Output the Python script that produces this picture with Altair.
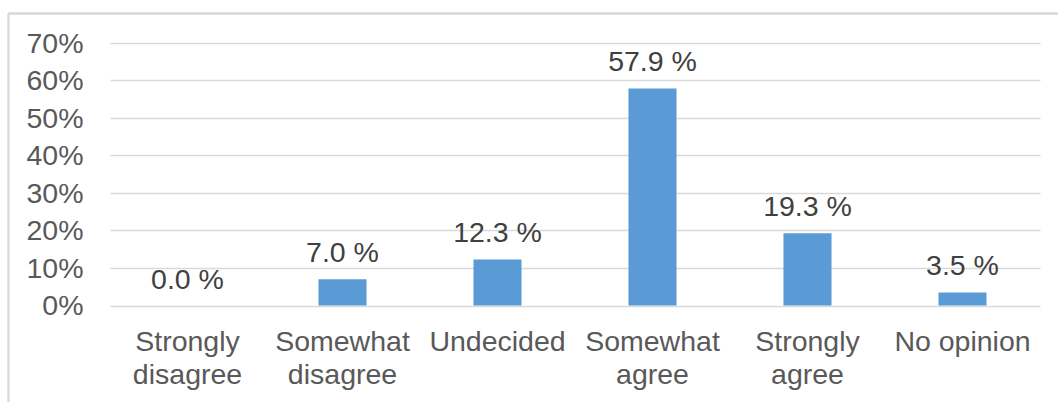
import altair as alt
import pandas as pd

categories = ["Strongly disagree", "Somewhat disagree", "Undecided",
              "Somewhat agree", "Strongly agree", "No opinion"]
values = [0.0, 7.0, 12.3, 57.9, 19.3, 3.5]
labels = ["0.0 %", "7.0 %", "12.3 %", "57.9 %", "19.3 %", "3.5 %"]
y_ticks = [0, 0.1, 0.2, 0.3, 0.4, 0.5, 0.6, 0.7]

df = pd.DataFrame({"cat": categories, "val": [v / 100 for v in values], "lab": labels})

FONT = "Liberation Sans"
FS = 28.5

x_enc = alt.X("cat:N", sort=categories, title=None,
              scale=alt.Scale(paddingInner=0.69, paddingOuter=0.345),
              axis=alt.Axis(labelAngle=0, ticks=False, domain=False, grid=False,
                            labelFont=FONT, labelFontSize=FS, labelColor="#595959",
                            labelPadding=22, labelLineHeight=32.5,
                            labelExpr="datum.label == 'Undecided' || datum.label == 'No opinion' ? datum.label : split(datum.label, ' ')"))
y_enc = alt.Y("val:Q", title=None,
              scale=alt.Scale(domain=[0, 0.7], nice=False),
              axis=alt.Axis(format=".0%", values=y_ticks, labelOverlap=False,
                            ticks=False, domain=False, gridColor="#D9D9D9", gridWidth=1.3,
                            labelFont=FONT, labelFontSize=FS, labelColor="#595959",
                            labelPadding=27))

base = alt.Chart(df).encode(x=x_enc, y=y_enc)
bars = base.mark_bar(color="#5B9BD5")
text = base.mark_text(font=FONT, fontSize=FS, color="#404040",
                      baseline="alphabetic", dy=-17).encode(text="lab:N")

border_top = alt.Chart(df).mark_rule(color="#D9D9D9", strokeWidth=1.3).encode(
    x=alt.value(-102), x2=alt.value(948), y=alt.value(-29.5), y2=alt.value(-29.5))
border_left = alt.Chart(df).mark_rule(color="#D9D9D9", strokeWidth=1.3).encode(
    x=alt.value(-101.5), x2=alt.value(-101.5), y=alt.value(-29.5), y2=alt.value(359))

chart = alt.layer(border_top, border_left, bars, text).properties(
    width=930, height=262.5,
    background="white",
    autosize=alt.AutoSizeParams(type="none"),
    padding={"left": 110, "top": 43, "right": 19, "bottom": 96},
).configure_view(strokeWidth=0, strokeOpacity=0)

chart.save("out.html", embed_options={"renderer": "svg", "actions": False})
